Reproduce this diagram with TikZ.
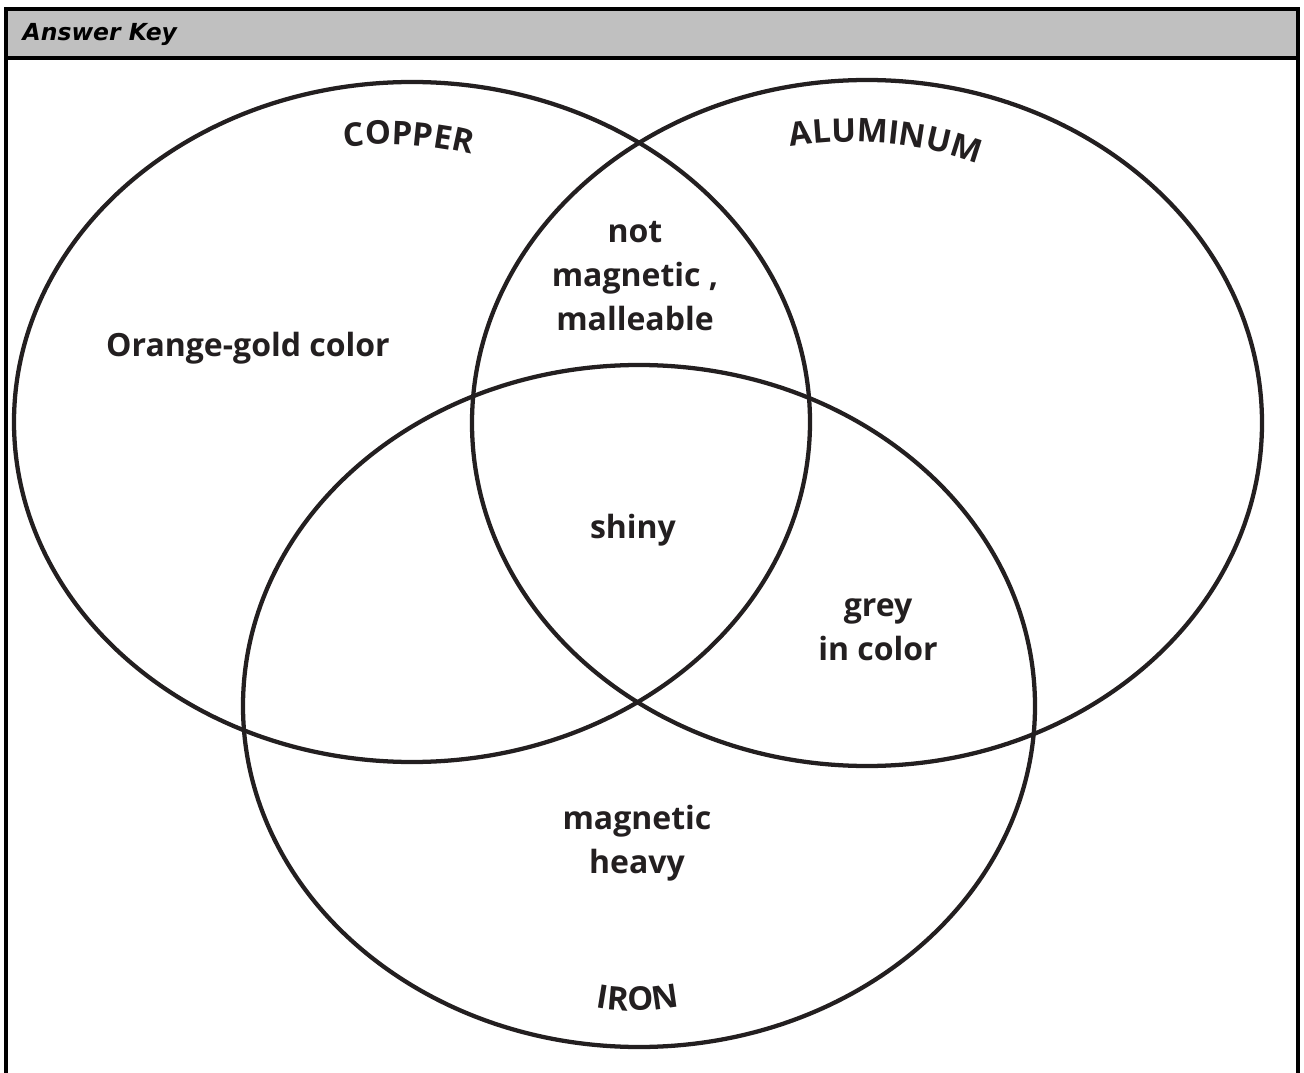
\documentclass[tikz,border=0pt]{standalone}
\usepackage{fontspec}
\setmainfont{Open Sans}
\newfontfamily\hdrfont{DejaVu Sans}
\usetikzlibrary{decorations.text}
\definecolor{ink}{HTML}{231F20}
\definecolor{hdrgray}{HTML}{C0C0C0}

\begin{document}
\begin{tikzpicture}[x=0.75pt,y=-0.75pt,
  ring/.style={draw=ink,line width=3.2pt},
  frame/.style={draw=black,line width=2.4pt},
  lbl/.style={font=\fontsize{24}{33}\selectfont\bfseries,align=center,text=ink},
  curved/.style={decorate,decoration={text along path,text align=center,
    text={|\fontsize{24.5}{24.5}\selectfont\bfseries\color{ink}|#1}}}
]
\useasboundingbox (0,0) rectangle (1304,1073);

% header bar
\fill[hdrgray] (6,9) rectangle (1298,58);
\draw[frame] (6,1085) -- (6,9) -- (1298,9) -- (1298,1085);
\draw[frame] (6,58) -- (1298,58);
\node[anchor=west,font=\hdrfont\bfseries\itshape\fontsize{17.6}{20}\selectfont] (hdr) at (18,34) {Answer Key};

% the three sets
\draw[ring] (412,422) ellipse [x radius=398, y radius=340];
\draw[ring] (867,423) ellipse [x radius=395, y radius=343];
\draw[ring] (639,706) ellipse [x radius=396, y radius=341];

% set names
\path[curved={COPPER}] (290,160) .. controls (360,137) and (440,138) .. (525,172);
\path[curved={ALUMINUM}] (740,160) .. controls (820,132) and (935,134) .. (1025,186);
\path[curved={IRON}] (545,990) .. controls (600,1018) and (675,1018) .. (730,988);

% region labels
\node[lbl] (cu) at (248,348) {Orange-gold color};
\node[lbl] (cual) at (635,276) {not\\magnetic ,\\malleable};
\node[lbl] (all) at (633,530) {shiny};
\node[lbl] (alfe) at (878,630) {grey\\in color};
\node[lbl] (fe) at (637,843) {magnetic\\heavy};
\end{tikzpicture}
\end{document}
